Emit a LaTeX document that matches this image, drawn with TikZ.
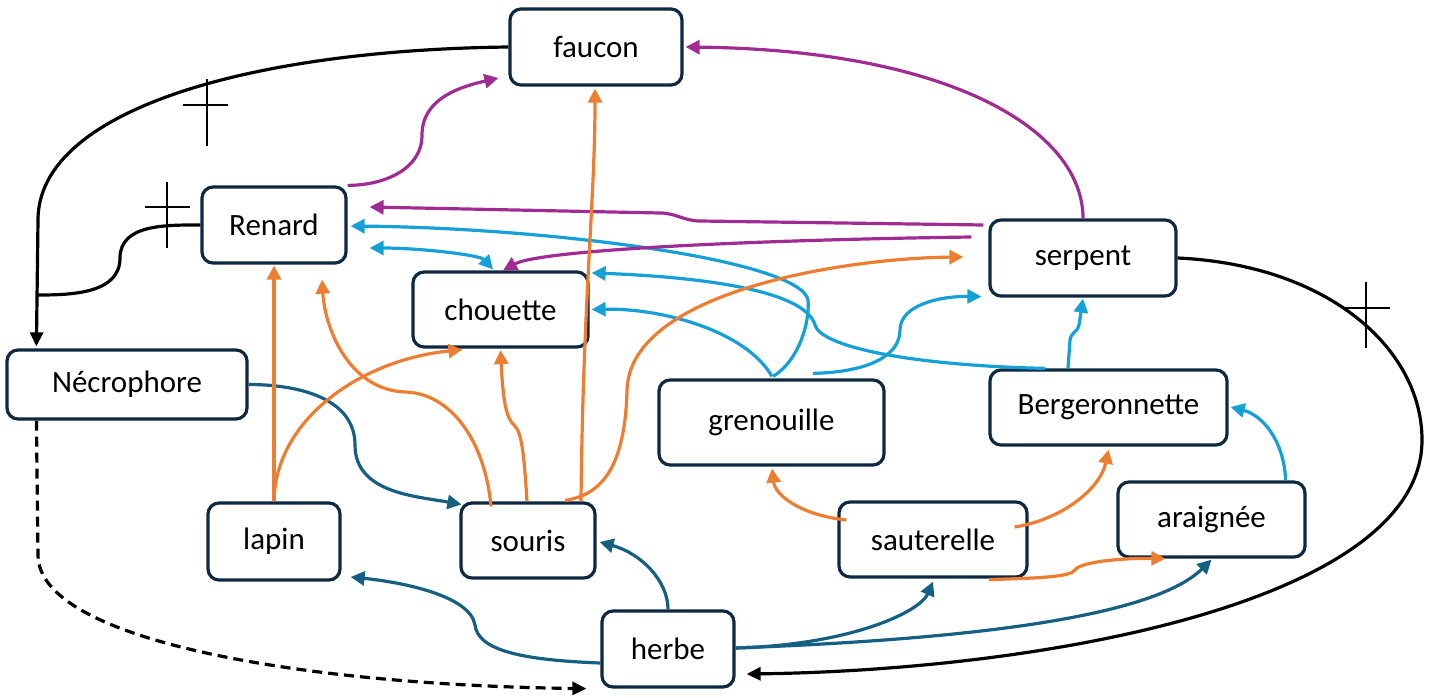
\documentclass[tikz,border=0pt]{standalone}
\usepackage{fontspec}
\setmainfont{Carlito}
\usetikzlibrary{arrows.meta}

\definecolor{boxline}{HTML}{0E2841}
\definecolor{eatorange}{HTML}{ED7D31}
\definecolor{eatpurple}{HTML}{A02B93}
\definecolor{eatsky}{HTML}{16A0D8}
\definecolor{eatteal}{HTML}{156082}

\tikzset{
  species/.style={draw=boxline, line width=3.2pt, fill=white, rounded corners=11pt,
                  inner sep=0pt, font=\fontsize{31}{37}\selectfont},
  tip/.style={-{Triangle[length=14pt,width=14pt]}},
  plain/.style={line width=3.2pt},
  link/.style={plain, tip},
  orangelink/.style={link, draw=eatorange},
  purplelink/.style={link, draw=eatpurple},
  purpleline/.style={plain, draw=eatpurple},
  skylink/.style={link, draw=eatsky},
  teallink/.style={link, draw=eatteal},
  blacklink/.style={plain, draw=black, -{Triangle[length=14pt,width=13pt]}},
  crossmark/.style={line width=2.4pt, draw=black}
}

\begin{document}
\begin{tikzpicture}[x=1pt, y=1pt]
\useasboundingbox (0,0) rectangle (1434,-698);

% species boxes
\node[species, minimum width=172pt, minimum height=76pt] (faucon)     at (596,-47)    {faucon};
\node[species, minimum width=144pt, minimum height=76pt] (renard)     at (274,-225)   {Renard};
\node[species, minimum width=175pt, minimum height=75pt] (chouette)   at (500.5,-309.5) {chouette};
\node[species, minimum width=186pt, minimum height=76pt] (serpent)    at (1083,-258)  {serpent};
\node[species, minimum width=240pt, minimum height=69pt] (necro)      at (127,-384.5) {Nécrophore};
\node[species, minimum width=225pt, minimum height=85pt] (grenouille) at (771.5,-422.5) {grenouille};
\node[species, minimum width=237pt, minimum height=75pt] (berg)       at (1108.5,-407.5) {Bergeronnette};
\node[species, minimum width=132pt, minimum height=77pt] (lapin)      at (274,-541.5) {lapin};
\node[species, minimum width=134pt, minimum height=75pt] (souris)     at (528,-540.5) {souris};
\node[species, minimum width=188pt, minimum height=75pt] (sauterelle) at (933,-539.5) {sauterelle};
\node[species, minimum width=187pt, minimum height=75pt] (araignee)   at (1211.5,-519.5) {araignée};
\node[species, minimum width=132pt, minimum height=76pt] (herbe)      at (668,-649)   {herbe};

% decomposers: dead animals go to the burying beetle
\coordinate (junction) at (38,-295);
\draw[blacklink] (faucon.west) .. controls (250,-50) and (38,-110) .. (38,-220)
      -- ([xshift=31pt,yshift=2pt]necro.north west);
\draw[plain] (renard.west) to[out=180,in=90] (120,-258) to[out=-90,in=0] (junction);
\draw[blacklink] (serpent.east) .. controls (1330,-265) and (1422,-350) .. (1422,-440)
      .. controls (1422,-600) and (1050,-670) .. ([xshift=11pt,yshift=-25pt]herbe.east);
\draw[blacklink, dash pattern=on 10pt off 6pt] ([xshift=31pt]necro.south west) -- (38,-555)
      .. controls (38,-640) and (300,-685) .. ([xshift=-14pt]herbe.south west);

% death crosses
\draw[crossmark] (207,-79) -- (207,-146) (183,-105) -- (228,-105);
\draw[crossmark] (167,-182) -- (167,-248) (145,-207) -- (190,-207);
\draw[crossmark] (1366,-282) -- (1366,-348) (1345,-308) -- (1390,-308);

% plants and carrion eaten (dark blue)
\draw[teallink] (necro.east) to[out=0,in=90] (355,-445) to[out=-90,in=170]
      ([xshift=2pt,yshift=-3pt]souris.north west);
\draw[teallink] ([yshift=-14pt]herbe.west) .. controls (520,-660) and (478,-650) .. (475,-625)
      .. controls (470,-595) and (400,-582) .. ([xshift=9pt,yshift=-35.5pt]lapin.east);
\draw[teallink] (herbe.north) .. controls (668,-580) and (640,-553) .. ([xshift=3pt,yshift=-1.5pt]souris.east);
\draw[teallink] ([yshift=1pt]herbe.east) .. controls (850,-645) and (920,-612) .. ([yshift=-3pt]sauterelle.south);
\draw[teallink] ([yshift=1pt]herbe.east) .. controls (950,-640) and (1150,-620) .. ([yshift=-1pt]araignee.south);

% light blue links
\draw[skylink] ([xshift=-21pt]araignee.north east) .. controls (1284,-440) and (1262,-415) ..
      ([xshift=2pt,yshift=0.5pt]berg.east);
\draw[skylink] ([xshift=-40.5pt]berg.north) -- (1070,-340) .. controls (1071,-332) and (1077,-333) ..
      (1079,-325) -- ([yshift=-1pt]serpent.south);
\draw[skylink] ([xshift=-63.5pt]berg.north) .. controls (900,-365) and (820,-345) .. (815,-325)
      .. controls (805,-290) and (700,-277) .. ([xshift=2pt,yshift=-2.5pt]chouette.north east);
\draw[skylink] ([xshift=1.5pt,yshift=2pt]grenouille.north) .. controls (800,-360) and (810,-320) .. (808,-300)
      .. controls (800,-260) and (550,-228) .. ([xshift=3pt,yshift=-1pt]renard.east);
\draw[skylink] ([xshift=0.5pt,yshift=2pt]grenouille.north) .. controls (745,-330) and (660,-308) ..
      ([xshift=2pt]chouette.east);
\draw[skylink] ([xshift=41.5pt,yshift=5pt]grenouille.north) .. controls (870,-372) and (900,-355) .. (900,-330)
      .. controls (900,-305) and (940,-296) .. ([xshift=-7pt,yshift=1pt]serpent.south west);
\draw[skylink, {Triangle[length=14pt,width=14pt]}-{Triangle[length=14pt,width=14pt]}]
      ([xshift=22pt,yshift=-23pt]renard.east) .. controls (420,-248) and (480,-255) ..
      ([xshift=-7.5pt,yshift=1pt]chouette.north);

% purple links
\draw[purplelink] (renard.north east) to[out=0,in=-90] (422,-135) to[out=90,in=193]
      ([xshift=-10pt,yshift=-31pt]faucon.west);
\draw[purplelink] (serpent.north) .. controls (1083,-130) and (950,-50) .. ([xshift=2pt]faucon.east);
\draw[purplelink] ([xshift=-5pt,yshift=33pt]serpent.west) -- (700,-221) to[out=180,in=0] (660,-213)
      -- ([xshift=22pt,yshift=18pt]renard.east);
\draw[purplelink] ([xshift=-17pt,yshift=21pt]serpent.west) .. controls (750,-240) and (540,-250) ..
      ([xshift=2.5pt]chouette.north);

% orange links
\draw[orangelink] (lapin.north) -- ([yshift=-1pt]renard.south);
\draw[orangelink] (lapin.north) .. controls (275,-420) and (360,-360) .. ([xshift=51pt,yshift=-1pt]chouette.south west);
\draw[orangelink] ([xshift=-37pt,yshift=-5pt]souris.north) .. controls (485,-440) and (450,-393) .. (405,-392)
      .. controls (350,-390) and (325,-330) .. ([xshift=48pt,yshift=-15pt]renard.south);
\draw[orangelink] ([xshift=-1pt]souris.north) .. controls (524,-455) and (522,-432) .. (514,-425)
      .. controls (506,-418) and (503,-400) .. ([yshift=-1.5pt]chouette.south);
\draw[orangelink] ([xshift=53pt]souris.north) .. controls (583,-300) and (595,-200) .. ([xshift=-1pt,yshift=-2pt]faucon.south);
\draw[orangelink] ([xshift=37pt,yshift=1pt]souris.north) .. controls (600,-495) and (625,-470) .. (627,-390)
      .. controls (630,-290) and (850,-258) .. ([xshift=-25pt,yshift=1pt]serpent.west);
\draw[orangelink] ([xshift=9pt,yshift=19.5pt]sauterelle.west) .. controls (800,-515) and (775,-495) ..
      ([xshift=0.5pt,yshift=-2pt]grenouille.south);
\draw[orangelink] ([xshift=-14pt,yshift=12.5pt]sauterelle.east) .. controls (1060,-520) and (1100,-490) ..
      ([yshift=-3pt]berg.south);
\draw[orangelink] ([xshift=-40pt,yshift=-1pt]sauterelle.south east) .. controls (1040,-578) and (1070,-577) .. (1075,-570)
      .. controls (1080,-562) and (1120,-558) .. ([xshift=49pt]araignee.south west);
\end{tikzpicture}
\end{document}
